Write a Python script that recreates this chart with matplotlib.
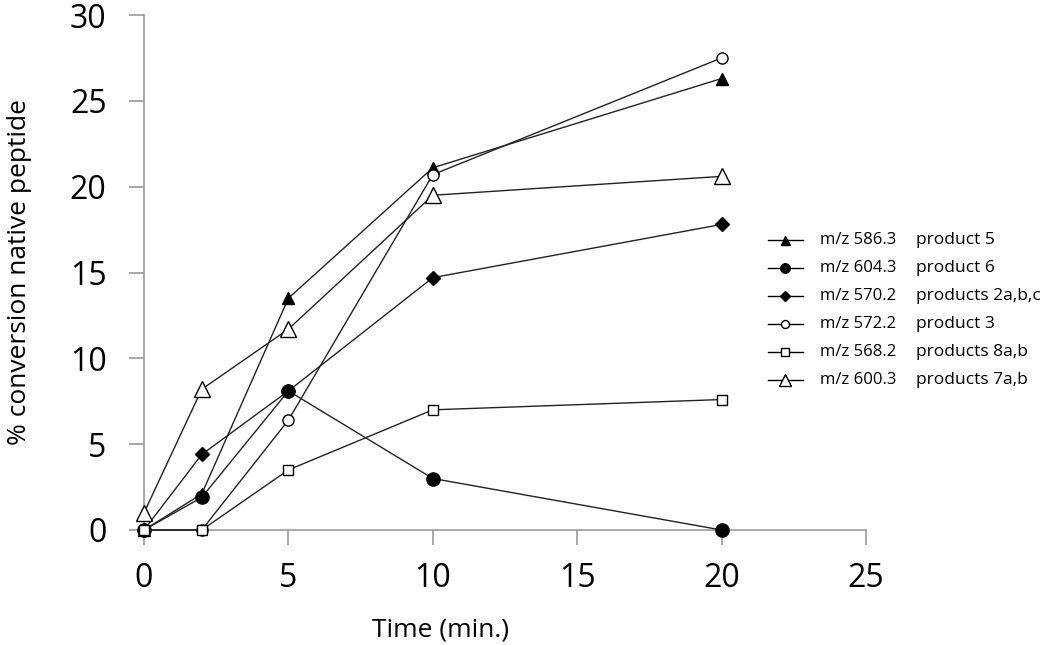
import matplotlib.pyplot as plt
from matplotlib.lines import Line2D

plt.rcParams['font.family'] = ['Open Sans', 'DejaVu Sans']

time = [0, 2, 5, 10, 20]
mz_labels = ["m/z 586.3", "m/z 604.3", "m/z 570.2", "m/z 572.2", "m/z 568.2", "m/z 600.3"]
products = ["product 5", "product 6", "products 2a,b,c", "product 3", "products 8a,b", "products 7a,b"]
mz586 = [0, 2.1, 13.5, 21.1, 26.3]
mz604 = [0, 1.9, 8.1, 3.0, 0]
mz570 = [0, 4.4, 8.1, 14.7, 17.8]
mz572 = [0, 0, 6.4, 20.7, 27.5]
mz568 = [0, 0, 3.5, 7.0, 7.6]
mz600 = [1.0, 8.2, 11.7, 19.5, 20.6]

series = [mz586, mz604, mz570, mz572, mz568, mz600]
styles = [
    dict(marker="^", ms=9, mfc="black"),
    dict(marker="o", ms=9.5, mfc="black"),
    dict(marker="D", ms=7, mfc="black"),
    dict(marker="o", ms=8, mfc="white"),
    dict(marker="s", ms=7.5, mfc="white"),
    dict(marker="^", ms=11.5, mfc="white"),
]

W, H = 1050, 645
fig = plt.figure(figsize=(W / 100, H / 100), dpi=100)
# axes box: x 0..25 spans px 144..866, y 0..30 spans px 530..15
ax = fig.add_axes([144 / W, 1 - 530 / H, (866 - 144) / W, (530 - 15) / H])

for vals, st in zip(series, styles):
    ax.plot(time, vals, color="#222222", lw=1.0, mec="black", mew=1.0,
            zorder=3, clip_on=False, **st)

ax.set_xticks([0, 5, 10, 15, 20, 25])
ax.set_yticks([0, 5, 10, 15, 20, 25, 30])
ax.set_xlim(0, 25)
ax.set_ylim(0, 30)

for side in ["top", "right"]:
    ax.spines[side].set_visible(False)
for side in ["left", "bottom"]:
    ax.spines[side].set_color("#999999")
    ax.spines[side].set_linewidth(1.2)
ax.tick_params(axis="both", colors="#999999", length=11, width=1.2, labelsize=23,
               labelcolor="black", direction="out")
ax.tick_params(axis="x", pad=12)
ax.tick_params(axis="y", pad=16)

fig.text(441 / W, 1 - 630 / H, "Time (min.)", fontsize=19, ha="center", va="center")
fig.text(20 / W, 1 - 272 / H, "% conversion native peptide", fontsize=19,
         ha="center", va="center", rotation=90)

# legend drawn by hand, two text columns
for i, st in enumerate(styles):
    y = 1 - (240 + 28 * i) / H
    fig.add_artist(Line2D([768 / W, 803 / W], [y, y], color="black", lw=1.0))
    fig.add_artist(Line2D([785 / W], [y], color="black", marker=st["marker"],
                          ms=st["ms"] * 0.72, mfc=st["mfc"], mec="black", mew=1.0))
    fig.text(820 / W, y, mz_labels[i], fontsize=12, va="center", ha="left")
    fig.text(916 / W, y, products[i], fontsize=12.5, va="center", ha="left")

fig.savefig("out.png", dpi=100)
